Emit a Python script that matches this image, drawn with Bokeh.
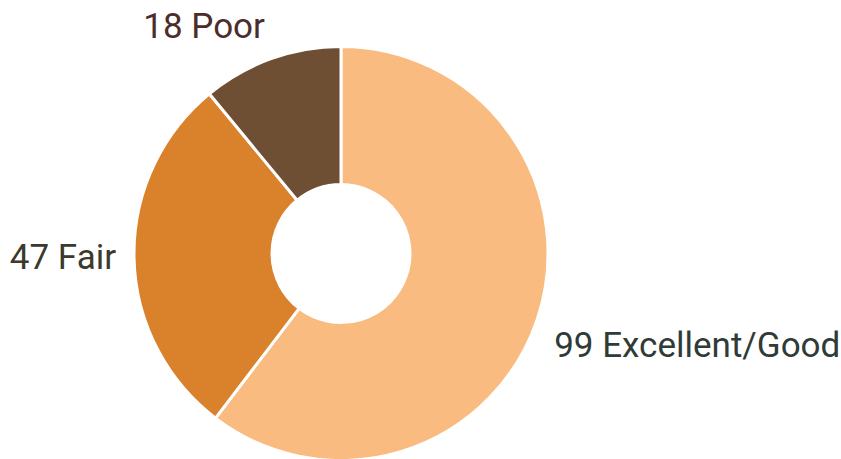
import math
from bokeh.plotting import figure
from bokeh.models import ColumnDataSource, Range1d
from bokeh.core.properties import value
from bokeh.embed import file_html
from bokeh.resources import INLINE

categories = ["Excellent/Good", "Fair", "Poor"]
counts = [99, 47, 18]
colors = ["#F9BB7F", "#D9812B", "#6F4F34"]
label_colors = ["#2F3B37", "#3B3A2C", "#4B2D2B"]

W, H = 841, 459
cx, cy = 340.5, H - 253
r_out, r_in = 207, 69
r_label = 225

total = sum(counts)
starts, ends, mids = [], [], []
a = math.pi / 2
for c in counts:
    sweep = 2 * math.pi * c / total
    starts.append(a)
    ends.append(a - sweep)
    mids.append(a - sweep / 2)
    a -= sweep

src = ColumnDataSource(dict(cat=categories, count=counts, start=starts, end=ends, color=colors))

p = figure(width=W, height=H, x_range=Range1d(0, W), y_range=Range1d(0, H),
           output_backend="svg", toolbar_location=None, min_border=0)
p.axis.visible = False
p.grid.visible = False
p.outline_line_color = None
p.background_fill_color = "white"
p.border_fill_color = "white"

p.annular_wedge(x=cx, y=cy, inner_radius=r_in, outer_radius=r_out,
                inner_radius_units="screen", outer_radius_units="screen",
                start_angle="start", end_angle="end", direction="clock",
                fill_color="color", line_color="white", line_width=3, source=src)

lx, ly, la, lb, lt, lo = [], [], [], [], [], []
for cat, c, m in zip(categories, counts, mids):
    cs, sn = math.cos(m), math.sin(m)
    lx.append(cx + r_label * cs)
    ly.append(cy + r_label * sn)
    la.append("left" if cs > 0 else "right")
    if sn > 0.5:
        lb.append("bottom")
        lo.append(5)
    elif sn < -0.2:
        lb.append("top")
        lo.append(0)
    else:
        lb.append("middle")
        lo.append(0)
    lt.append(f"{c} {cat}")

lsrc = ColumnDataSource(dict(x=lx, y=ly, text=lt, align=la, base=lb, color=label_colors, yoff=lo))
p.text(x="x", y="y", text="text", text_align="align", text_baseline="base",
       y_offset="yoff", text_color="color", text_font=value("Roboto"),
       text_font_size="35px", source=lsrc)

open("out.html", "w").write(file_html(p, INLINE))
